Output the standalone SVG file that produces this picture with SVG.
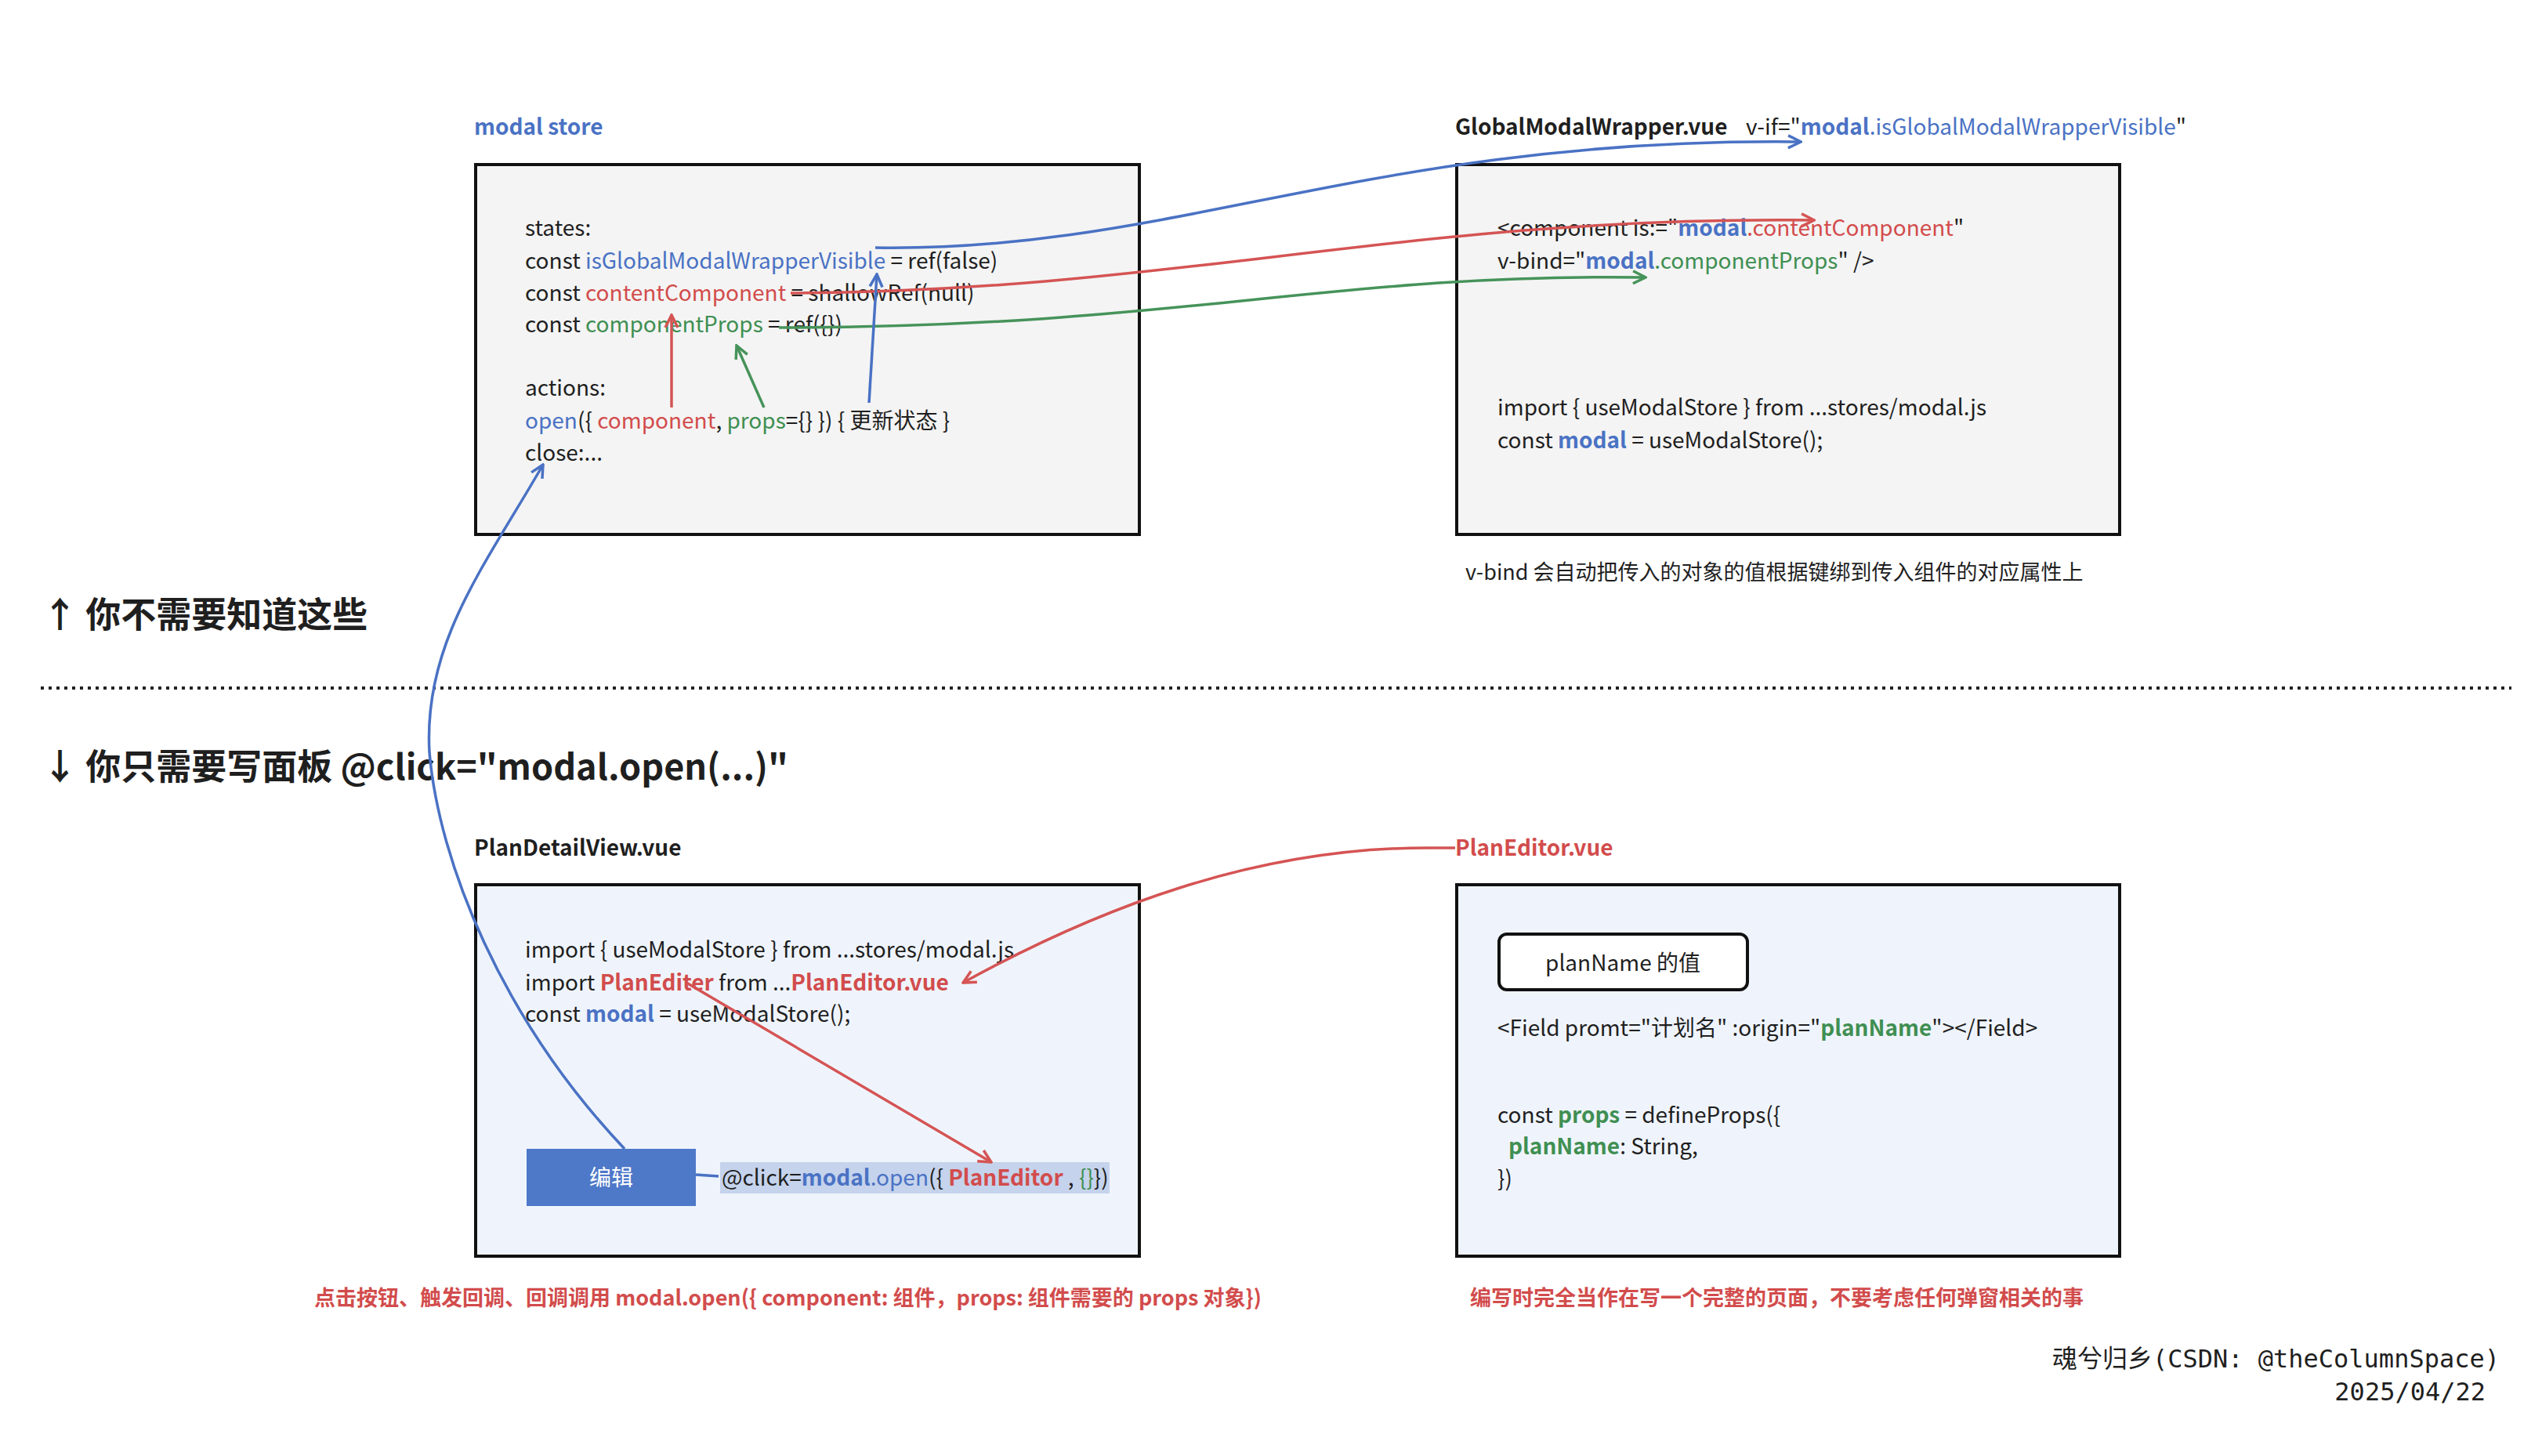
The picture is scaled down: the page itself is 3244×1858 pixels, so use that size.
<svg xmlns="http://www.w3.org/2000/svg" width="3244" height="1858" viewBox="0 0 3244 1858">
<defs>
<style>
text{font-family:"Noto Sans CJK SC","Noto Sans",sans-serif;font-size:28px;fill:#1f1f1f}
.b{font-weight:bold}
.bl{fill:#4a72c4}.rd{fill:#d24c4c}.gr{fill:#3f8f52}
.h{font-size:45px;font-weight:bold}
.cap{font-size:27px;font-weight:bold;fill:#d24c4c}
.box{stroke:#111;stroke-width:4}
.c{fill:none;stroke-width:3.5}
.cb{stroke:#4a72c4}.cr{stroke:#d55454}.cg{stroke:#46935a}
.mono{font-family:"DejaVu Sans Mono","Noto Sans CJK SC",monospace;font-size:32px}
</style>
<marker id="ab" viewBox="0 0 20 20" refX="18" refY="10" markerWidth="20" markerHeight="20" markerUnits="userSpaceOnUse" orient="auto"><path d="M2,2 L18,10 L2,18" fill="none" stroke="#4a72c4" stroke-width="3.5"/></marker>
<marker id="ar" viewBox="0 0 20 20" refX="18" refY="10" markerWidth="20" markerHeight="20" markerUnits="userSpaceOnUse" orient="auto"><path d="M2,2 L18,10 L2,18" fill="none" stroke="#d55454" stroke-width="3.5"/></marker>
<marker id="ag" viewBox="0 0 20 20" refX="18" refY="10" markerWidth="20" markerHeight="20" markerUnits="userSpaceOnUse" orient="auto"><path d="M2,2 L18,10 L2,18" fill="none" stroke="#46935a" stroke-width="3.5"/></marker>
</defs>
<rect width="3244" height="1858" fill="#fff"/>

<g id="store">
<text x="605" y="172" class="b bl">modal store</text>
<rect x="607" y="210" width="847" height="472" fill="#f4f4f4" class="box"/>
<text x="670" y="301">states:</text>
<text x="670" y="343">const <tspan class="bl">isGlobalModalWrapperVisible</tspan> = ref(false)</text>
<text x="670" y="384">const <tspan class="rd">contentComponent</tspan> = shallowRef(null)</text>
<text x="670" y="424">const <tspan class="gr">componentProps</tspan> = ref({})</text>
<text x="670" y="505">actions:</text>
<text x="670" y="547"><tspan class="bl">open</tspan>({ <tspan class="rd">component</tspan>, <tspan class="gr">props</tspan>={} }) { 更新状态 }</text>
<text x="670" y="588">close:...</text>
</g>

<g id="wrapper">
<text x="1857" y="172" class="b">GlobalModalWrapper.vue</text>
<text x="2228" y="172">v-if="<tspan class="b bl">modal</tspan><tspan class="bl">.isGlobalModalWrapperVisible</tspan>"</text>
<rect x="1859" y="210" width="846" height="472" fill="#f4f4f4" class="box"/>
<text x="1911" y="301">&lt;component is:="<tspan class="b bl">modal</tspan><tspan class="rd">.contentComponent</tspan>"</text>
<text x="1911" y="343">v-bind="<tspan class="b bl">modal</tspan><tspan class="gr">.componentProps</tspan>" /&gt;</text>
<text x="1911" y="530">import { useModalStore } from ...stores/modal.js</text>
<text x="1911" y="572">const <tspan class="b bl">modal</tspan> = useModalStore();</text>
<text x="1870" y="740" style="font-size:27px">v-bind 会自动把传入的对象的值根据键绑到传入组件的对应属性上</text>
</g>

<g id="divider">
<text x="54" y="801" class="h">↑ 你不需要知道这些</text>
<line x1="52" y1="878" x2="3205" y2="878" stroke="#222" stroke-width="4" stroke-dasharray="4 6"/>
<text x="54" y="995" class="h">↓ 你只需要写面板 @click="modal.open(...)"</text>
</g>

<g id="detail">
<text x="605" y="1092" class="b">PlanDetailView.vue</text>
<rect x="607" y="1129" width="847" height="474" fill="#eff4fc" class="box"/>
<text x="670" y="1222">import { useModalStore } from ...stores/modal.js</text>
<text x="670" y="1264">import <tspan class="b rd">PlanEditer</tspan> from ...<tspan class="b rd">PlanEditor.vue</tspan></text>
<text x="670" y="1304">const <tspan class="b bl">modal</tspan> = useModalStore();</text>
<rect x="672" y="1466" width="216" height="73" fill="#4e78c8"/>
<text x="780" y="1513" text-anchor="middle" style="fill:#fff">编辑</text>
<rect x="919" y="1483" width="497" height="40" fill="#c5d3ec"/>
<text x="921" y="1513">@click=<tspan class="b bl">modal</tspan><tspan class="bl">.open</tspan>({ <tspan class="b rd">PlanEditor</tspan> , <tspan class="gr">{}</tspan>})</text>
<text x="401" y="1666" class="cap">点击按钮、触发回调、回调调用 modal.open({ component: 组件，props: 组件需要的 props 对象})</text>
</g>

<g id="editor">
<text x="1857" y="1092" class="b rd">PlanEditor.vue</text>
<rect x="1859" y="1129" width="846" height="474" fill="#eff4fc" class="box"/>
<rect x="1913" y="1192" width="317" height="71" rx="10" fill="#fff" class="box"/>
<text x="2071" y="1239" text-anchor="middle">planName 的值</text>
<text x="1911" y="1322">&lt;Field promt="计划名" :origin="<tspan class="b gr">planName</tspan>"&gt;&lt;/Field&gt;</text>
<text x="1911" y="1433">const <tspan class="b gr">props</tspan> = defineProps({</text>
<text x="1925" y="1473"><tspan class="b gr">planName</tspan>: String,</text>
<text x="1911" y="1514">})</text>
<text x="1876" y="1666" class="cap">编写时完全当作在写一个完整的页面，不要考虑任何弹窗相关的事</text>
</g>

<g id="sign">
<text x="3190" y="1745" class="mono" text-anchor="end">魂兮归乡(CSDN: @theColumnSpace)</text>
<text x="3172" y="1787" class="mono" text-anchor="end">2025/04/22</text>
</g>

<g id="connectors">
<path class="c cb" d="M1117,316 C1500,322 1750,175 2298,181" marker-end="url(#ab)"/>
<path class="c cr" d="M1009,374 C1500,372 1800,275 2315,281" marker-end="url(#ar)"/>
<path class="c cg" d="M994,418 C1500,418 1700,348 2100,354" marker-end="url(#ag)"/>
<path class="c cb" d="M1109,514 L1119,350" marker-end="url(#ab)" stroke-width="3"/>
<path class="c cr" d="M857,520 L857,402" marker-end="url(#ar)" stroke-width="3"/>
<path class="c cg" d="M975,520 L940,441" marker-end="url(#ag)" stroke-width="3"/>
<path class="c cb" d="M797,1466 C640,1300 560,1100 548,960 C540,820 620,720 693,593" marker-end="url(#ab)" stroke-width="3"/>
<path class="c cr" d="M1857,1082 L1820,1082 C1600,1082 1400,1160 1229,1254" marker-end="url(#ar)"/>
<path class="c cr" d="M876,1254 L1265,1483" marker-end="url(#ar)" stroke-width="3"/>
<path class="c cb" d="M888,1499 L917,1501"/>
</g>
</svg>
